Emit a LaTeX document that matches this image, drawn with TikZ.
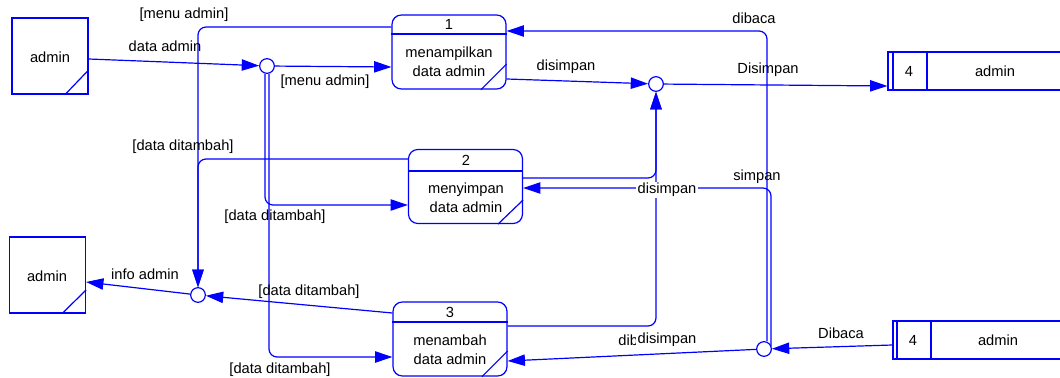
\documentclass[tikz,border=0pt]{standalone}
\usepackage{fontspec}
\setmainfont{Liberation Sans}
\usetikzlibrary{arrows.meta}
\begin{document}
\begin{tikzpicture}[x=0.75pt,y=-0.75pt,
  every node/.style={font=\fontsize{11}{14}\selectfont, inner sep=0pt},
  ln/.style={draw=blue, line width=0.9pt},
  flow/.style={draw=blue, line width=0.9pt, rounded corners=6pt, -{Triangle[length=13pt,width=8.5pt]}},
  junc/.style={circle, draw=blue, fill=white, minimum size=11pt, inner sep=0pt, line width=0.9pt},
  proc/.style={rectangle, draw=blue, rounded corners=7pt, minimum width=85.5pt, minimum height=55.5pt, line width=0.9pt},
  ent/.style={rectangle, draw=blue, minimum width=57pt, minimum height=57pt, line width=0.9pt},
  store/.style={rectangle, draw=blue, minimum height=28.5pt, line width=0.9pt},
  lbl/.style={text=black},
  wlbl/.style={text=black, fill=white, inner sep=1pt}
]
\fill[white] (0,0) rectangle (1060,378);
\useasboundingbox (0,0) rectangle (1060,378);

% external entities
\node[ent] (e1) at (50,56) {};
\draw[ln] (e1.east |- 0,70) -- (e1.south -| 65,0);
\node[lbl] (e1t) at (50,57) {admin};
\node[ent] (e2) at (47.5,275) {};
\draw[ln] (e2.east |- 0,290) -- (e2.south -| 62,0);
\node[lbl] (e2t) at (47,276) {admin};

% processes
\node[proc] (p1) at (449,52) {};
\draw[ln] (p1.west |- 0,34) -- (p1.east |- 0,34);
\draw[ln] (p1.east |- 0,64) -- (p1.south -| 481,0);
\node[lbl] (p1n) at (449,24) {1};
\node[lbl, align=center] (p1t) at (449,62) {menampilkan\\data admin};

\node[proc] (p2) at (465.5,186.5) {};
\draw[ln] (p2.west |- 0,171) -- (p2.east |- 0,171);
\draw[ln] (p2.east |- 0,200) -- (p2.south -| 498,0);
\node[lbl] (p2n) at (466,160) {2};
\node[lbl, align=center] (p2t) at (466,198) {menyimpan\\data admin};

\node[proc] (p3) at (450,339) {};
\draw[ln] (p3.west |- 0,322) -- (p3.east |- 0,322);
\draw[ln] (p3.east |- 0,351) -- (p3.south -| 482,0);
\node[lbl] (p3n) at (450,312) {3};
\node[lbl, align=center] (p3t) at (450,350) {menambah\\data admin};

% data stores
\node[store, minimum width=136.5pt] (s1) at (979,71) {};
\draw[ln] (s1.north -| 893,0) -- (s1.south -| 893,0);
\draw[ln] (s1.north -| 927,0) -- (s1.south -| 927,0);
\node[lbl] (s1n) at (909,71) {4};
\node[lbl] (s1t) at (995,71) {admin};

\node[store, minimum width=135pt] (s2) at (983,340) {};
\draw[ln] (s2.north -| 897,0) -- (s2.south -| 897,0);
\draw[ln] (s2.north -| 931,0) -- (s2.south -| 931,0);
\node[lbl] (s2n) at (913,340) {4};
\node[lbl] (s2t) at (998,340) {admin};

% junctions
\node[junc] (j1) at (267,66) {};
\node[junc] (j2) at (656,84) {};
\node[junc] (j3) at (764,349) {};
\node[junc] (j4) at (198,295) {};

% flows
\draw[flow] (e1.east |- 0,59) -- (j1);
\draw[flow] (j1) -- (p1.west |- 0,67);
\draw[flow] ([xshift=-1.5pt]j1.south) |- (p2.west |- 0,205);
\draw[flow] ([xshift=1.5pt]j1.south) |- (p3.west |- 0,357);
\draw[flow] (p1.west |- 0,27) -| (j4.north);
\draw[flow] (p2.west |- 0,159) -| (j4.north);
\draw[flow] (p3.west |- 0,313) -- (j4);
\draw[flow] (j4) -- (e2.east |- 0,282);
\draw[flow] (p1.east |- 0,79) -- (j2);
\draw[flow] (j2) -- (s1.west |- 0,86);
\draw[flow] (p2.east |- 0,178) -| (j2.south);
\draw[flow] (p3.east |- 0,326) -| (j2.south);
\draw[flow] (s2.west |- 0,345) -- (j3);
\draw[flow] ([xshift=2.25pt]j3.north) |- (p1.east |- 0,31);
\draw[flow] ([xshift=5.25pt,yshift=2pt]j3.center) |- (p2.east |- 0,188);
\draw[flow] (j3) -- (p3.east |- 0,361);

% labels
\node[lbl] (l1) at (184,15) {[menu admin]};
\node[lbl] (l2) at (165,46) {data admin};
\node[lbl] (l3) at (325,82) {[menu admin]};
\node[lbl] (l4) at (183,147) {[data ditambah]};
\node[lbl] (l5) at (275,217) {[data ditambah]};
\node[lbl] (l6) at (145,274) {info admin};
\node[lbl] (l7) at (309,292) {[data ditambah]};
\node[lbl] (l8) at (280,370) {[data ditambah]};
\node[lbl] (l9) at (566,67) {disimpan};
\node[lbl] (l10) at (768,70) {Disimpan};
\node[lbl] (l11) at (754,18) {dibaca};
\node[lbl] (l12) at (757,177) {simpan};
\node[wlbl] (l13) at (667,190) {disimpan};
\node[lbl] (l14) at (841,333) {Dibaca};
\node[lbl] (l15) at (640,340) {dibaca};
\node[wlbl] (l16) at (667,340) {disimpan};
\end{tikzpicture}
\end{document}
